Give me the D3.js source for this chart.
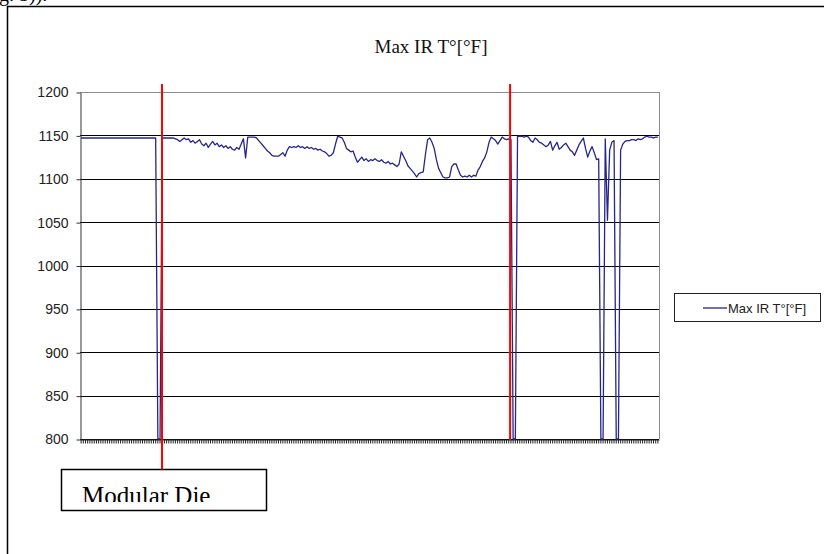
<!DOCTYPE html>
<html><head><meta charset="utf-8">
<script src="https://cdn.jsdelivr.net/npm/d3@7"></script>
<style>body{margin:0;background:#fff}svg{display:block}</style>
</head><body>
<svg id="chart" width="824" height="554"></svg>
<script>
const title = "Max IR T°[°F]";
const seriesName = "Max IR T°[°F]";
const yTicks = [800, 850, 900, 950, 1000, 1050, 1100, 1150, 1200];
const values = [
  1147,1147,1147,1147,1147,1147,1147,1147,1147,1147,
  1147,1147,1147,1147,1147,1147,1147,1147,1147,1147,
  1147,1147,1147,1147,1147,1147,1147,1147,1147,1147,
  1147,1147,1147,1147,1147,800,800,1147,1147,1147,
  1147,1147,1147,1146,1145,1143,1145,1147,1145,1146,
  1142,1144,1141,1143,1145,1140,1138,1141,1136,1140,
  1143,1139,1141,1137,1139,1136,1138,1135,1137,1134,
  1133,1136,1134,1140,1146,1124,1148,1148,1148,1148,
  1147,1144,1141,1138,1135,1132,1130,1127,1126,1126,
  1126,1128,1130,1126,1133,1137,1136,1137,1136,1138,
  1136,1137,1135,1137,1135,1136,1134,1135,1133,1134,
  1132,1131,1129,1126,1127,1130,1140,1149,1148,1147,
  1142,1135,1133,1131,1132,1125,1119,1122,1125,1121,
  1123,1120,1122,1121,1123,1121,1120,1122,1119,1118,
  1120,1117,1118,1116,1114,1117,1131,1126,1121,1115,
  1112,1109,1106,1102,1106,1107,1108,1128,1145,1147,
  1142,1135,1122,1112,1107,1102,1101,1101,1102,1114,
  1117,1117,1110,1104,1102,1103,1102,1104,1102,1104,
  1103,1110,1114,1120,1124,1131,1142,1148,1146,1144,
  1140,1144,1148,1146,1145,1146,1145,800,800,1149,
  1149,1149,1148,1149,1148,1144,1142,1147,1145,1142,
  1141,1139,1137,1139,1143,1133,1138,1142,1134,1136,
  1139,1141,1137,1133,1131,1127,1133,1139,1143,1147,
  1135,1125,1132,1137,1130,1122,1123,800,800,1146,
  1052,1133,1142,1144,800,800,1133,1140,1143,1144,
  1144,1145,1145,1144,1146,1145,1146,1148,1149,1148,
  1148,1147,1148,1148
];
const categories = values.map((_, i) => i + 1);
const markerPositions = [36.9, 195.6];   // category-index positions of the red markers
const annotationText = "Modular Die";
const pageFragment = "g. 5))." ;

const svg = d3.select("#chart");
const M = {left: 80, right: 659, top: 92, bottom: 439};
const serif = "'Liberation Serif', 'Times New Roman', serif";
const sans = "'Liberation Sans', Arial, sans-serif";

const x = d3.scaleBand().domain(categories).range([M.left, M.right]).padding(0);
const y = d3.scaleLinear().domain([800, 1200]).range([M.bottom, M.top]);
const cx = i => x(categories[0]) + x.bandwidth() * (i + 0.5);

// page fragment + frame
svg.append("text").attr("x", -1).attr("y", 1)
  .attr("font-family", serif).attr("font-size", 20).attr("fill", "#000").text(pageFragment);
svg.append("path").attr("d", "M7.5,554 V6.5 H824")
  .attr("fill", "none").attr("stroke", "#000").attr("stroke-width", 1.5);

// title
svg.append("text").attr("x", 431).attr("y", 53).attr("text-anchor", "middle")
  .attr("font-family", serif).attr("font-size", 19).attr("fill", "#111").text(title);

// gridlines
svg.append("g").selectAll("line").data(yTicks).join("line")
  .attr("x1", M.left).attr("x2", M.right)
  .attr("y1", d => Math.round(y(d)) + 0.5).attr("y2", d => Math.round(y(d)) + 0.5)
  .attr("stroke", d => d === 1200 ? "#8c8c8c" : "#000").attr("stroke-width", 1);
// right border
svg.append("line").attr("x1", M.right + 0.5).attr("x2", M.right + 0.5)
  .attr("y1", M.top).attr("y2", M.bottom).attr("stroke", "#8c8c8c");

// y axis
const ya = svg.append("g").attr("transform", `translate(${M.left + 0.5},0.5)`)
  .call(d3.axisLeft(y).tickValues(yTicks).tickSize(4).tickPadding(8).tickFormat(d3.format("d")).tickSizeOuter(0));
ya.select(".domain").attr("stroke", "#333");
ya.selectAll(".tick line").attr("stroke", "#333");
ya.selectAll("text").attr("font-family", sans).attr("font-size", 14).attr("fill", "#222");

// x axis (dense category ticks)
const xa = svg.append("g").attr("transform", `translate(0,${M.bottom + 0.5})`)
  .call(d3.axisBottom(x).tickSize(4).tickSizeOuter(0).tickFormat(""));
xa.select(".domain").attr("stroke", "#222");
xa.selectAll(".tick line").attr("stroke", "#222");

// data line
svg.append("path").datum(values)
  .attr("d", d3.line().x((d, i) => x(categories[i]) + x.bandwidth() / 2).y(d => y(d)))
  .attr("fill", "none").attr("stroke", "#26268a").attr("stroke-width", 1.3)
  .attr("stroke-linejoin", "round");

// annotation box
const boxX = 61.5, boxY = 469.5, boxW = 205, boxH = 41;
svg.append("defs").append("clipPath").attr("id", "boxclip")
  .append("rect").attr("x", 0).attr("y", 0).attr("width", 824).attr("height", 502);
svg.append("rect").attr("x", boxX).attr("y", boxY).attr("width", boxW).attr("height", boxH)
  .attr("fill", "#fff").attr("stroke", "#000").attr("stroke-width", 1.5);
svg.append("text").attr("x", 82).attr("y", 504).attr("clip-path", "url(#boxclip)")
  .attr("font-family", serif).attr("font-size", 25).attr("fill", "#000").text(annotationText);

// red marker lines
const markerBottoms = [boxY, M.bottom + 1];
svg.append("g").selectAll("line").data(markerPositions).join("line")
  .attr("x1", d => cx(d)).attr("x2", d => cx(d))
  .attr("y1", 84).attr("y2", (d, i) => markerBottoms[i])
  .attr("stroke", "#ff0000").attr("stroke-width", 2);

// legend
const lg = svg.append("g");
lg.append("rect").attr("x", 674.5).attr("y", 293.5).attr("width", 146).attr("height", 28)
  .attr("fill", "#fff").attr("stroke", "#222").attr("stroke-width", 1);
lg.append("line").attr("x1", 703).attr("x2", 727).attr("y1", 308).attr("y2", 308)
  .attr("stroke", "#26268a").attr("stroke-width", 1.3);
lg.append("text").attr("x", 728).attr("y", 312.5)
  .attr("font-family", sans).attr("font-size", 13).attr("fill", "#222").text(seriesName);
</script>
</body></html>
